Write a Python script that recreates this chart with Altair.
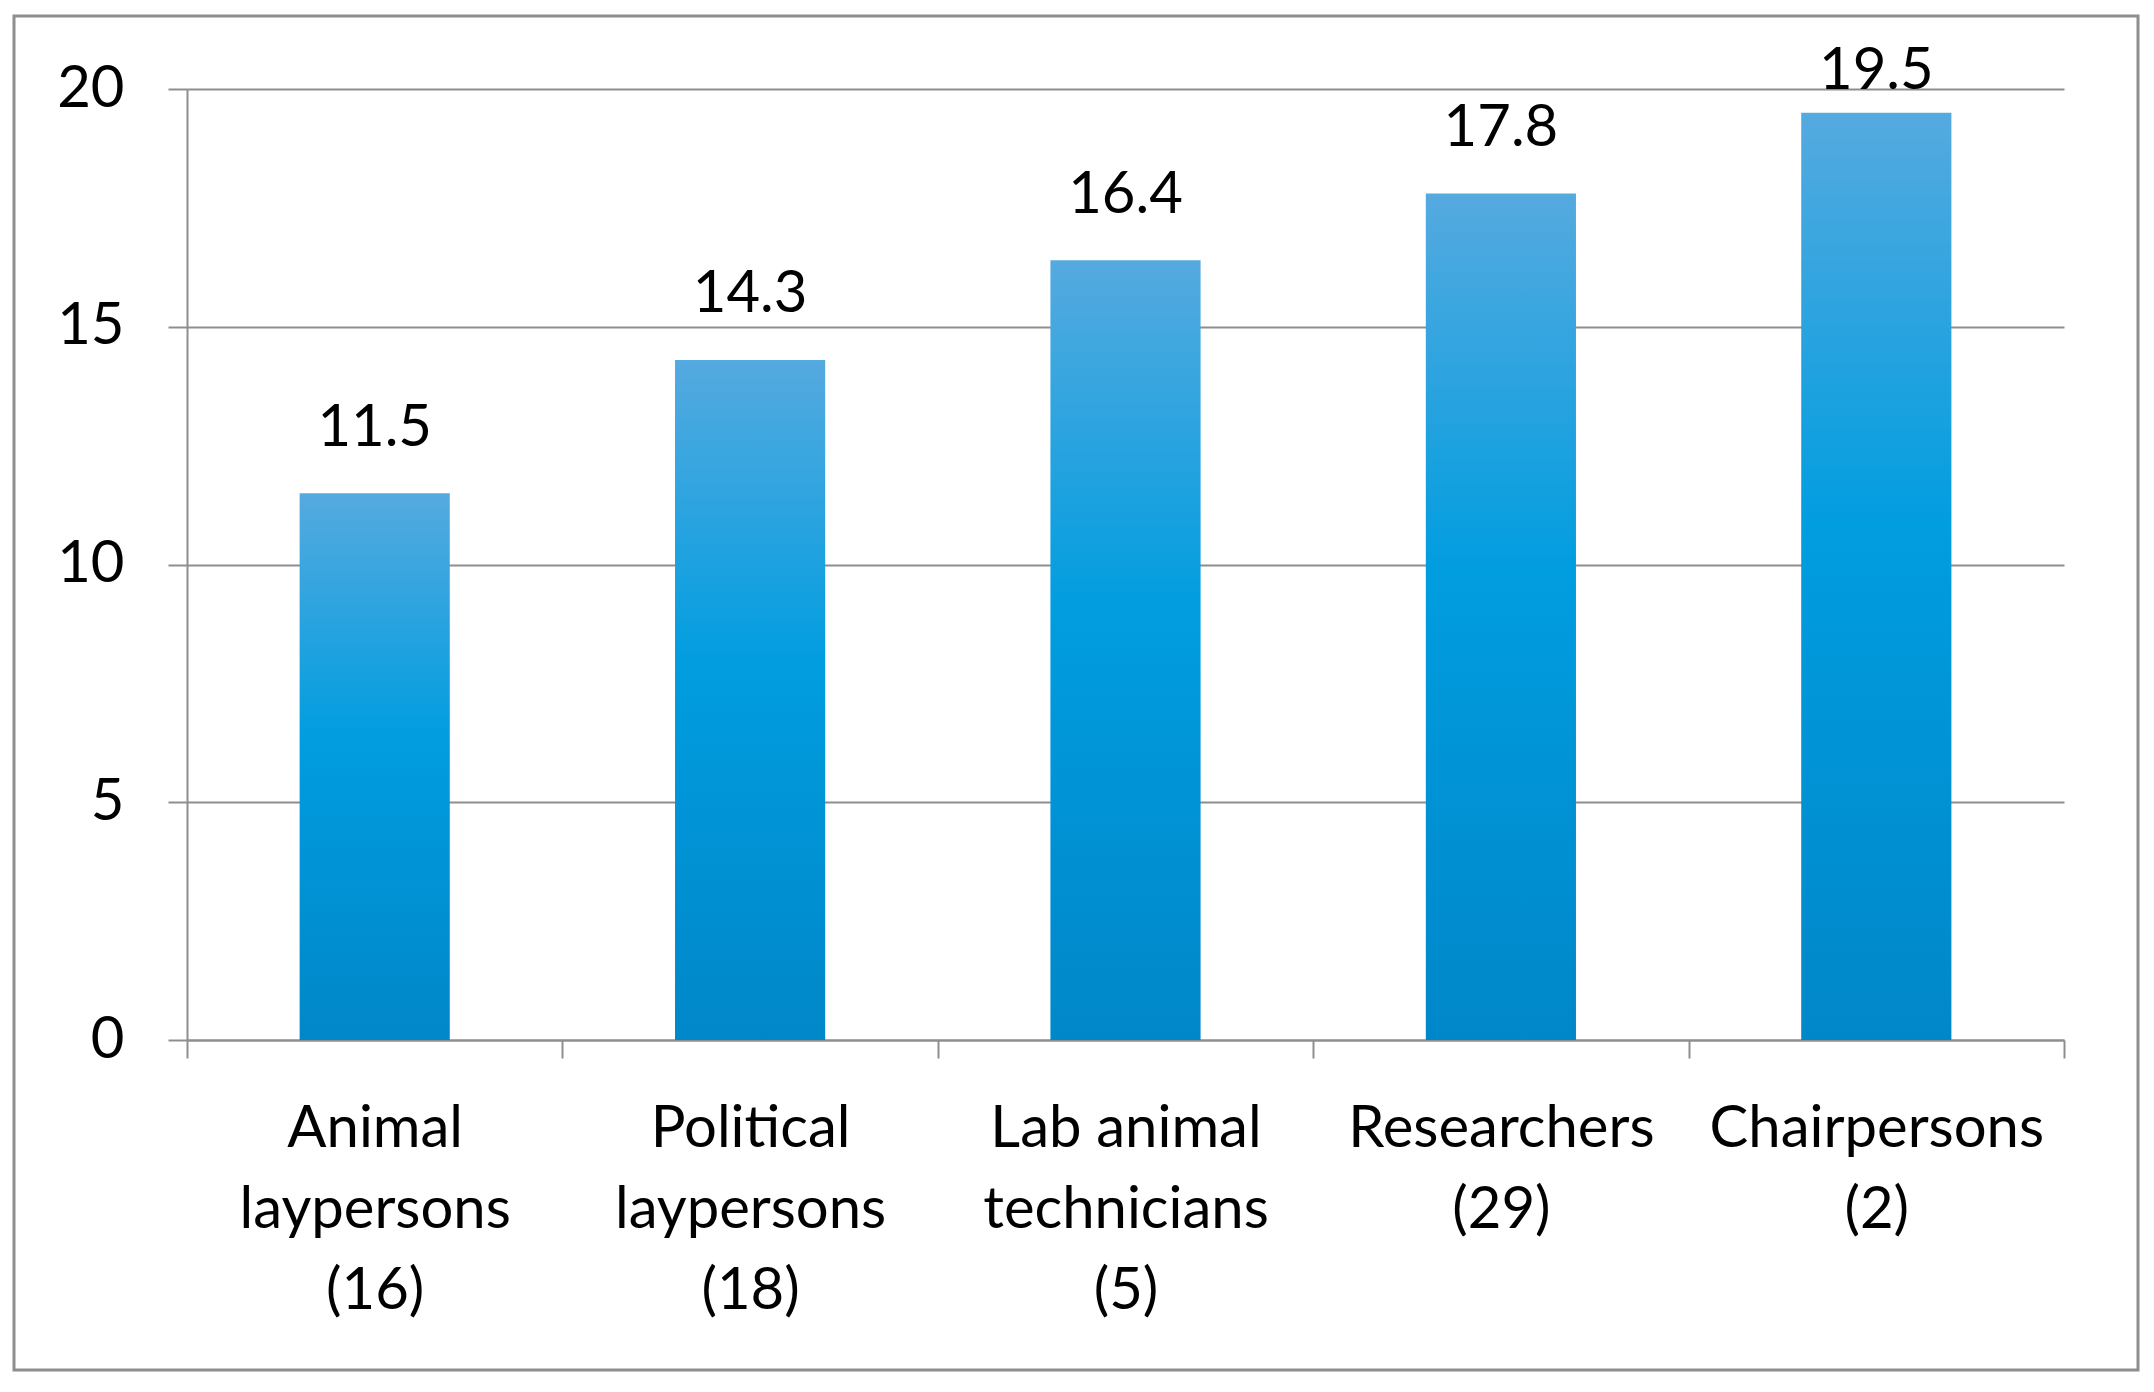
import altair as alt
import pandas as pd

categories = [
    "Animal\nlaypersons\n(16)",
    "Political\nlaypersons\n(18)",
    "Lab animal\ntechnicians\n(5)",
    "Researchers\n(29)",
    "Chairpersons\n(2)",
]
values = [11.5, 14.3, 16.4, 17.8, 19.5]
y_ticks = [0, 5, 10, 15, 20]

df = pd.DataFrame({"cat": categories, "val": values})

FONT = "Lato"
GRAY = "#8e8e8e"
W, H = 1877, 951

x_enc = alt.X(
    "cat:N",
    sort=categories,
    scale=alt.Scale(paddingInner=0, paddingOuter=0),
    axis=alt.Axis(
        title=None,
        labelAngle=0,
        labelExpr="split(datum.label, '\\n')",
        labelFont=FONT,
        labelFontSize=58,
        labelLineHeight=81,
        labelColor="#000000",
        labelLimit=0,
        labelPadding=42,
        tickBand="extent",
        tickSize=18,
        tickColor=GRAY,
        tickWidth=2,
        domainColor=GRAY,
        domainWidth=2,
        grid=False,
    ),
)

y_scale = alt.Scale(domain=[0, 20], nice=False)

bars = alt.Chart(df).mark_bar(
    width={"band": 0.4},
    color=alt.Gradient(
        gradient="linear",
        x1=0, y1=0, x2=0, y2=1,
        stops=[
            alt.GradientStop(offset=0, color="#55aadf"),
            alt.GradientStop(offset=0.45, color="#009ddf"),
            alt.GradientStop(offset=1, color="#0087c9"),
        ],
    ),
).encode(
    x=x_enc,
    y=alt.Y(
        "val:Q",
        scale=y_scale,
        axis=alt.Axis(
            title=None,
            values=y_ticks,
            labelFont=FONT,
            labelFontSize=58,
            labelColor="#000000",
            labelPadding=44,
            tickSize=19,
            tickColor=GRAY,
            tickWidth=2,
            domainColor=GRAY,
            domainWidth=2,
            grid=True,
            gridColor=GRAY,
            gridWidth=2,
        ),
    ),
)

labels = alt.Chart(df).transform_calculate(
    label_y="min(datum.val + 1, 20)"
).mark_text(
    font=FONT, fontSize=58, color="#000000", baseline="alphabetic", align="center"
).encode(
    x=alt.X("cat:N", sort=categories),
    y=alt.Y("label_y:Q", scale=y_scale),
    text=alt.Text("val:Q", format=".1f"),
)

frame = alt.Chart(pd.DataFrame({"a": [0]})).mark_rect(
    filled=False, stroke=GRAY, strokeWidth=3
).encode(
    x=alt.value(-173), x2=alt.value(1951), y=alt.value(-73), y2=alt.value(1281)
)

chart = alt.layer(bars, labels, frame).properties(
    width=W,
    height=H,
    padding={"left": 179, "top": 81, "right": 82, "bottom": 344},
    autosize="none",
    background="white",
).configure_view(stroke=None)

chart.save("out.html", embed_options={"renderer": "svg", "actions": False})
